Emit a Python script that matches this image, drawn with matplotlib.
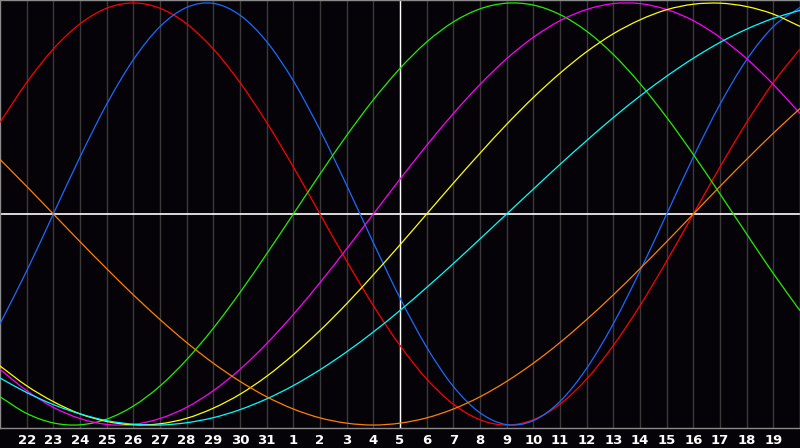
import matplotlib
matplotlib.use("Agg")
import matplotlib.pyplot as plt
from matplotlib.path import Path
from matplotlib.patches import PathPatch

# Day labels shown under the grid (index 1..29); grid spans index 0..30
day_labels = [22, 23, 24, 25, 26, 27, 28, 29, 30, 31, 1, 2, 3, 4, 5, 6, 7, 8, 9,
              10, 11, 12, 13, 14, 15, 16, 17, 18, 19]
day_index = list(range(31))

# Daily values (index 0..30)
blue = [-0.520, -0.270, 0.000, 0.270, 0.520, 0.731, 0.888, 0.979, 0.998, 0.942, 0.817,
        0.631, 0.398, 0.136, -0.136, -0.398, -0.631, -0.817, -0.942, -0.998, -0.979,
        -0.888, -0.731, -0.520, -0.270, 0.000, 0.270, 0.520, 0.731, 0.888, 0.979]
red = [0.434, 0.623, 0.782, 0.901, 0.975, 1.000, 0.975, 0.901, 0.782, 0.623, 0.434,
       0.223, 0.000, -0.223, -0.434, -0.623, -0.782, -0.901, -0.975, -1.000, -0.975,
       -0.901, -0.782, -0.623, -0.434, -0.223, 0.000, 0.223, 0.434, 0.623, 0.782]
green = [-0.866, -0.945, -0.990, -0.999, -0.972, -0.910, -0.815, -0.690, -0.541, -0.372,
         -0.189, 0.000, 0.189, 0.372, 0.541, 0.690, 0.815, 0.910, 0.972, 0.999, 0.990,
         0.945, 0.866, 0.756, 0.618, 0.458, 0.282, 0.095, -0.095, -0.282, -0.458]
magenta = [-0.736, -0.837, -0.916, -0.969, -0.997, -0.997, -0.969, -0.916, -0.837,
           -0.736, -0.614, -0.476, -0.325, -0.165, 0.000, 0.165, 0.325, 0.476, 0.614,
           0.736, 0.837, 0.916, 0.969, 0.997, 0.997, 0.969, 0.916, 0.837, 0.736, 0.614,
           0.476]
yellow = [-0.720, -0.814, -0.889, -0.947, -0.983, -0.999, -0.994, -0.968, -0.920,
          -0.854, -0.769, -0.667, -0.552, -0.425, -0.288, -0.146, 0.000, 0.146, 0.288,
          0.425, 0.552, 0.667, 0.769, 0.854, 0.920, 0.968, 0.994, 0.999, 0.983, 0.947,
          0.889]
cyan = [-0.777, -0.846, -0.903, -0.947, -0.979, -0.996, -1.000, -0.989, -0.965, -0.927,
        -0.876, -0.813, -0.738, -0.653, -0.559, -0.457, -0.348, -0.235, -0.118, 0.000,
        0.118, 0.235, 0.348, 0.457, 0.559, 0.653, 0.738, 0.813, 0.876, 0.927, 0.965]
orange = [0.259, 0.131, 0.000, -0.131, -0.259, -0.383, -0.500, -0.609, -0.707, -0.793,
          -0.866, -0.924, -0.966, -0.991, -1.000, -0.991, -0.966, -0.924, -0.866,
          -0.793, -0.707, -0.609, -0.500, -0.383, -0.259, -0.131, 0.000, 0.131, 0.259,
          0.383, 0.500]

series = [
    (red, "#ff0000"),
    (blue, "#1a6aff"),
    (green, "#22ee00"),
    (magenta, "#ff00ff"),
    (yellow, "#ffff00"),
    (cyan, "#00ffff"),
    (orange, "#ff8000"),
]


def smooth_path(xs, ys):
    """Smooth (Catmull-Rom style) Bezier path through the data points."""
    n = len(xs)
    pts = list(zip(xs, ys))

    def pt(k):
        if k < 0:
            return (2 * pts[0][0] - pts[1][0], 2 * pts[0][1] - pts[1][1])
        if k >= n:
            return (2 * pts[-1][0] - pts[-2][0], 2 * pts[-1][1] - pts[-2][1])
        return pts[k]

    verts = [pts[0]]
    codes = [Path.MOVETO]
    for k in range(n - 1):
        p0, p1, p2, p3 = pt(k - 1), pt(k), pt(k + 1), pt(k + 2)
        c1 = (p1[0] + (p2[0] - p0[0]) / 6, p1[1] + (p2[1] - p0[1]) / 6)
        c2 = (p2[0] - (p3[0] - p1[0]) / 6, p2[1] - (p3[1] - p1[1]) / 6)
        verts += [c1, c2, p2]
        codes += [Path.CURVE4] * 3
    return Path(verts, codes)


bg = "#050308"
fig = plt.figure(figsize=(8.0, 4.48), dpi=100, facecolor=bg)
ax = fig.add_axes([0, 20 / 448, 1, 428 / 448], facecolor=bg)

# day gridlines
for i in day_index[1:-1]:
    ax.axvline(i, color="#3a3a3a", lw=1.0, zorder=1)

ax.axhline(0, color="#ffffff", lw=1.2, zorder=2)
ax.axvline(15, color="#ffffff", lw=1.0, zorder=2)

for vals, col in series:
    ax.add_patch(PathPatch(smooth_path(day_index, vals), facecolor="none",
                           edgecolor=col, lw=0.9, zorder=3))

ax.set_xlim(0, 30)
ax.set_ylim(-1.014, 1.014)
ax.set_yticks([])
ax.set_xticks(day_index[1:-1])
ax.set_xticklabels([str(d) for d in day_labels], color="white",
                   fontsize=9.5, fontweight="bold", family="DejaVu Sans")
ax.tick_params(axis="x", length=0, pad=4)
for s in ax.spines.values():
    s.set_color("#8a8a8a")
    s.set_linewidth(1.0)

fig.savefig("out.png", dpi=100, facecolor=bg)
